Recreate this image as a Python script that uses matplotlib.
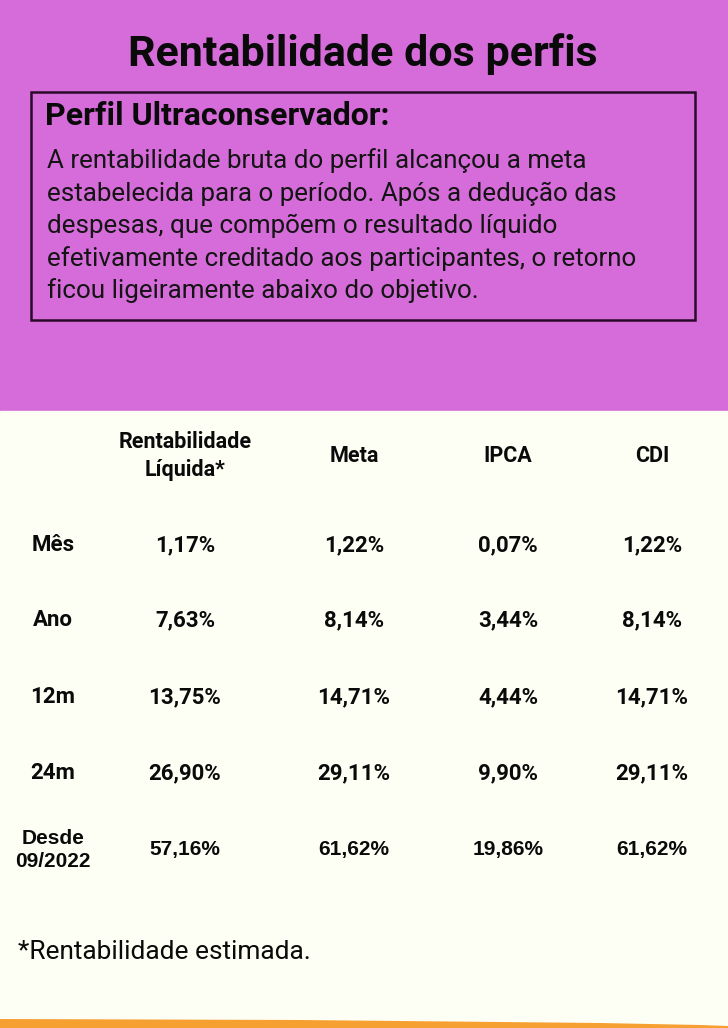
import matplotlib.pyplot as plt
from matplotlib.patches import Rectangle

# dados da tabela
colunas = ['Rentabilidade\nLíquida*', 'Meta', 'IPCA', 'CDI']
periodos = ['Mês', 'Ano', '12m', '24m', 'Desde\n09/2022']
rent_liquida = ['1,17%', '7,63%', '13,75%', '26,90%', '57,16%']
meta = ['1,22%', '8,14%', '14,71%', '29,11%', '61,62%']
ipca = ['0,07%', '3,44%', '4,44%', '9,90%', '19,86%']
cdi = ['1,22%', '8,14%', '14,71%', '29,11%', '61,62%']

titulo = 'Rentabilidade dos perfis'
subtitulo = 'Perfil Ultraconservador:'
texto = ['A rentabilidade bruta do perfil alcançou a meta',
         'estabelecida para o período. Após a dedução das',
         'despesas, que compõem o resultado líquido',
         'efetivamente creditado aos participantes, o retorno',
         'ficou ligeiramente abaixo do objetivo.']
nota = '*Rentabilidade estimada.'

ROXO = '#D66BDA'
CREME = '#FDFEF4'
LARANJA = '#F7A032'

fig = plt.figure(figsize=(7.28, 10.28), dpi=100)
ax = fig.add_axes([0, 0, 1, 1])
ax.set_xlim(0, 728)
ax.set_ylim(1028, 0)
ax.axis('off')

# fundos
ax.add_patch(Rectangle((0, 0), 728, 411, color=ROXO, zorder=0))
ax.add_patch(Rectangle((0, 411), 728, 617, color=CREME, zorder=0))
xs = [0, 300, 600, 700, 728]
ax.fill_between(xs, [1019, 1020, 1023, 1025, 1026], 1028, color=LARANJA, lw=0)

fonte = 'Roboto'
ax.text(363, 54, titulo, ha='center', va='center', fontsize=31,
        fontweight='bold', family=fonte, color='#0a0a0a')

ax.add_patch(Rectangle((31, 92), 664, 228, fill=False, ec='#2a0a2a', lw=1.8, zorder=2))
ax.text(45, 116, subtitulo, ha='left', va='center', fontsize=23,
        fontweight='bold', family=fonte, color='#0a0a0a')
for i, linha in enumerate(texto):
    ax.text(47, 161 + i * 32.5, linha, ha='left', va='center', fontsize=18.7,
            family=fonte, color='#141414')

# tabela
x_cols = [185, 354, 508, 652]
y_rows = [545, 620, 697, 773, 850]
for x, c in zip(x_cols, colunas):
    ax.text(x, 456, c, ha='center', va='center', fontsize=15.5, fontweight='bold',
            family=fonte, linespacing=1.3, color='#0a0a0a')

valores = [rent_liquida, meta, ipca, cdi]
for j, (y, p) in enumerate(zip(y_rows, periodos)):
    ultima = j == len(periodos) - 1
    fam = 'Liberation Sans' if ultima else fonte
    tam = 15 if ultima else 16
    ax.text(53, y, p, ha='center', va='center', fontsize=tam, fontweight='bold',
            family=fam, linespacing=1.25, color='#0a0a0a')
    for x, serie in zip(x_cols, valores):
        ax.text(x, y, serie[j], ha='center', va='center', fontsize=tam,
                fontweight='bold', family=fam, color='#0a0a0a')

ax.text(18, 952, nota, ha='left', va='center', fontsize=18.9, family=fonte, color='#0a0a0a')

fig.savefig('out.png', dpi=100, facecolor=CREME)
